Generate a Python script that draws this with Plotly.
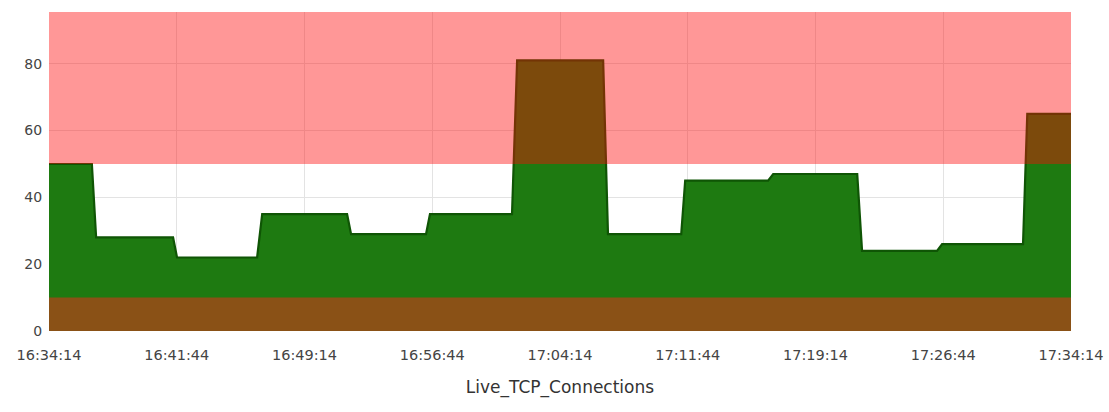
import plotly.graph_objects as go

# Corner points of the Live_TCP_Connections series
times = [
    "2024-01-01 16:34:14", "2024-01-01 16:36:45", "2024-01-01 16:37:00",
    "2024-01-01 16:41:31", "2024-01-01 16:41:45", "2024-01-01 16:46:27",
    "2024-01-01 16:46:45", "2024-01-01 16:51:44", "2024-01-01 16:51:58",
    "2024-01-01 16:56:22", "2024-01-01 16:56:36", "2024-01-01 17:01:25",
    "2024-01-01 17:01:43", "2024-01-01 17:06:46", "2024-01-01 17:07:03",
    "2024-01-01 17:11:21", "2024-01-01 17:11:35", "2024-01-01 17:16:27",
    "2024-01-01 17:16:45", "2024-01-01 17:21:41", "2024-01-01 17:21:58",
    "2024-01-01 17:26:22", "2024-01-01 17:26:40", "2024-01-01 17:31:25",
    "2024-01-01 17:31:40", "2024-01-01 17:34:14",
]
values = [
    50, 50, 28,
    28, 22, 22,
    35, 35, 29,
    29, 35, 35,
    81, 81, 29,
    29, 45, 45,
    47, 47, 24,
    24, 26, 26,
    65, 65,
]

# Threshold bands
critical_low = 50      # red band starts here
warning_high = 10      # brown band up to here
y_max = 95.5

x_start = "2024-01-01 16:34:14"
x_end = "2024-01-01 17:34:14"
title_text = "Live_TCP_Connections"

fig = go.Figure()
fig.add_trace(go.Scatter(
    x=times, y=values, mode="lines",
    line=dict(color="#0F5505", width=2.2),
    fill="tozeroy", fillcolor="#1E7A11",
    hoverinfo="skip", showlegend=False,
))

# red band (semi-transparent, drawn above -> turns the green brown where it overlaps)
fig.add_shape(type="rect", xref="paper", yref="y", x0=0, x1=1,
              y0=critical_low, y1=y_max, layer="above", line_width=0,
              fillcolor="rgba(255,8,8,0.42)")
# brown low band
fig.add_shape(type="rect", xref="paper", yref="y", x0=0, x1=1,
              y0=0, y1=warning_high, layer="above", line_width=0,
              fillcolor="#8A5116")

font_family = "DejaVu Sans"
fig.update_layout(
    width=1109, height=412,
    margin=dict(l=49, r=38, t=12, b=81),
    paper_bgcolor="white", plot_bgcolor="white",
    font=dict(family=font_family, size=13, color="#444"),
    xaxis=dict(
        range=[x_start, x_end], type="date", automargin=False,
        tick0=x_start, dtick=450000, tickformat="%H:%M:%S",
        showgrid=True, gridcolor="#e3e3e3", gridwidth=1,
        zeroline=False, showline=False,
        ticks="outside", ticklen=11, tickcolor="rgba(0,0,0,0)",
        tickfont=dict(size=14.5, color="#444"),
        title=dict(text=title_text, font=dict(size=17, color="#333"), standoff=18),
    ),
    yaxis=dict(
        range=[0, y_max], tick0=0, dtick=20, automargin=False,
        showgrid=True, gridcolor="#e3e3e3", gridwidth=1,
        zeroline=False, showline=False,
        ticks="outside", ticklen=3, tickcolor="rgba(0,0,0,0)",
        tickfont=dict(size=14, color="#444"),
    ),
)

# remove the default 8px page margin so the figure sits at the window's corner
fig.write_html("out.html",
               config={"displayModeBar": False},
               post_script="document.body.style.margin='0';document.body.style.overflow='hidden';")
